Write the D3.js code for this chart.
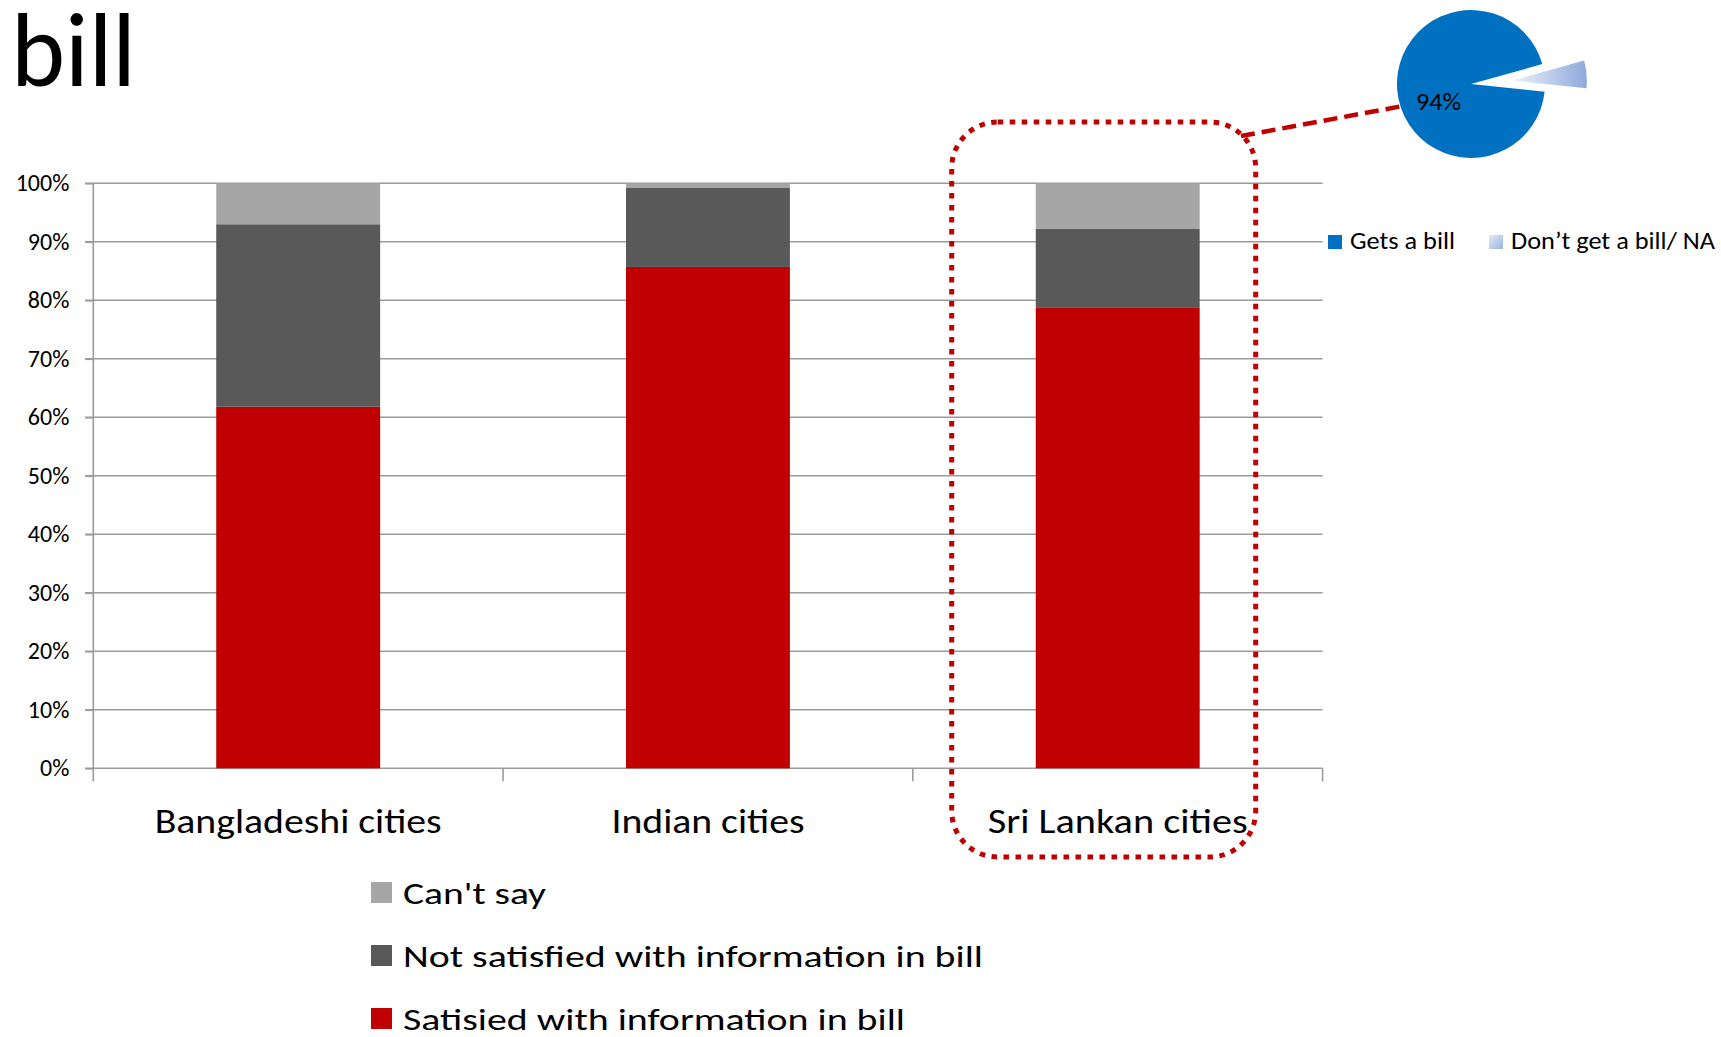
<!DOCTYPE html>
<html><head><meta charset="utf-8">
<script src="https://cdn.jsdelivr.net/npm/d3@7"></script>
<style>
html,body{margin:0;padding:0;background:#fff;}
svg{display:block;font-family:Carlito,Lato,"Open Sans",sans-serif;}
</style></head>
<body>
<svg id="chart" width="1721" height="1037"></svg>
<script>
// ---- data ----
const categories = ["Bangladeshi cities", "Indian cities", "Sri Lankan cities"];
const seriesNames = ["Satisied with information in bill", "Not satisfied with information in bill", "Can't say"];
const satisfied = [0.618, 0.857, 0.787];
const notSatisfied = [0.312, 0.135, 0.135];
const cantSay = [0.070, 0.008, 0.078];
const yTicks = [0, 0.1, 0.2, 0.3, 0.4, 0.5, 0.6, 0.7, 0.8, 0.9, 1.0];
const pieLabels = ["Gets a bill", "Don\u2019t get a bill/ NA"];
const pieValues = [94, 6];
const titleText = "bill";

// ---- styles ----
const colors = {"Satisied with information in bill":"#c00000","Not satisfied with information in bill":"#595959","Can't say":"#a6a6a6"};
const gridColor = "#9b9b9b";

const svg = d3.select("#chart");

// title
svg.append("text").attr("x", 11).attr("y", 86).attr("font-size", 104)
  .attr("fill", "#000").attr("textLength", 125).attr("lengthAdjust", "spacingAndGlyphs")
  .text(titleText);

// scales
const x = d3.scaleBand().domain(categories).range([93.3, 1322.6])
  .paddingInner(0.6).paddingOuter(0.3);
const y = d3.scaleLinear().domain([0, 1]).range([768.3, 183.3]);

// gridlines
svg.append("g").selectAll("line").data(yTicks).join("line")
  .attr("x1", 85).attr("x2", 1322.6)
  .attr("y1", d => y(d)).attr("y2", d => y(d))
  .attr("stroke", gridColor).attr("stroke-width", 1.6);

// y axis
const yAxis = svg.append("g").attr("transform", "translate(93.3,0)")
  .call(d3.axisLeft(y).tickValues(yTicks).tickFormat(d3.format(".0%")).tickSize(8).tickPadding(16));
yAxis.select(".domain").attr("stroke", gridColor).attr("stroke-width", 1.6)
  .attr("d", `M0,${y(1)}V${y(0) + 13}`);
yAxis.selectAll(".tick line").attr("stroke", gridColor).attr("stroke-width", 1.6);
yAxis.selectAll(".tick text").attr("font-size", 24).attr("fill", "#000")
  .attr("font-family", "Carlito,Lato,sans-serif");

// category boundary ticks
const bounds = d3.range(categories.length + 1).map(i => x.range()[0] + i * x.step());
svg.append("g").selectAll("line").data(bounds.slice(1)).join("line")
  .attr("x1", d => d).attr("x2", d => d)
  .attr("y1", y(0)).attr("y2", y(0) + 13)
  .attr("stroke", gridColor).attr("stroke-width", 1.6);

// stacked bars
const rows = categories.map((c, i) => ({
  cat: c,
  [seriesNames[0]]: satisfied[i],
  [seriesNames[1]]: notSatisfied[i],
  [seriesNames[2]]: cantSay[i]
}));
const stacked = d3.stack().keys(seriesNames)(rows);
svg.append("g").selectAll("g").data(stacked).join("g")
  .attr("fill", s => colors[s.key])
  .selectAll("rect").data(s => s).join("rect")
  .attr("x", d => x(d.data.cat))
  .attr("width", x.bandwidth())
  .attr("y", d => y(d[1]))
  .attr("height", d => y(d[0]) - y(d[1]));

// category labels
const catWidths = [287, 193, 260];
svg.append("g").selectAll("text").data(categories).join("text")
  .attr("x", d => x(d) + x.bandwidth() / 2)
  .attr("y", 833)
  .attr("text-anchor", "middle")
  .attr("font-size", 34)
  .attr("fill", "#000")
  .attr("textLength", (d, i) => catWidths[i])
  .attr("lengthAdjust", "spacingAndGlyphs")
  .text(d => d);

// bottom legend (Can't say first)
const legOrder = [seriesNames[2], seriesNames[1], seriesNames[0]];
const legWidths = [143, 580, 502];
const leg = svg.append("g").selectAll("g").data(legOrder).join("g")
  .attr("transform", (d, i) => `translate(371,${882 + i * 63})`);
leg.append("rect").attr("width", 21).attr("height", 21).attr("fill", d => colors[d]);
leg.append("text").attr("x", 32).attr("y", 22).attr("font-size", 30).attr("fill", "#000")
  .attr("textLength", (d, i) => legWidths[i]).attr("lengthAdjust", "spacingAndGlyphs")
  .text(d => d);

// dotted rounded highlight around Sri Lankan cities
const sl = x(categories[2]) + x.bandwidth() / 2;
svg.append("rect")
  .attr("x", sl - 166).attr("y", 122)
  .attr("width", 304).attr("height", 735)
  .attr("rx", 46).attr("ry", 46)
  .attr("fill", "none").attr("stroke", "#c00000")
  .attr("stroke-width", 5).attr("stroke-dasharray", "5.5 6.5");

// pie
const cx = 1471, cy = 84, r = 74;
const pie = d3.pie().sort(null).startAngle(96 * Math.PI / 180).endAngle(96 * Math.PI / 180 + 2 * Math.PI);
const arcs = pie(pieValues);
const arc = d3.arc().innerRadius(0).outerRadius(r);

// connector line
svg.append("line").attr("x1", 1241).attr("y1", 136).attr("x2", 1400).attr("y2", 106.5)
  .attr("stroke", "#c00000").attr("stroke-width", 4.5).attr("stroke-dasharray", "14 7");

const defs = svg.append("defs");
const grad = defs.append("linearGradient").attr("id", "lightBlue")
  .attr("x1", "0%").attr("x2", "100%").attr("y1", "0%").attr("y2", "0%");
grad.append("stop").attr("offset", "0%").attr("stop-color", "#eef2fa");
grad.append("stop").attr("offset", "100%").attr("stop-color", "#8fa9dc");
const legGrad = defs.append("linearGradient").attr("id", "lightBlueLeg")
  .attr("x1", "0%").attr("x2", "100%").attr("y1", "0%").attr("y2", "100%");
legGrad.append("stop").attr("offset", "0%").attr("stop-color", "#e3e9f6");
legGrad.append("stop").attr("offset", "100%").attr("stop-color", "#9db4e0");

const pieFills = ["#0070c0", "url(#lightBlue)"];
const pg = svg.append("g").attr("transform", `translate(${cx},${cy})`);
pg.selectAll("path").data(arcs).join("path")
  .attr("d", arc)
  .attr("fill", (d, i) => pieFills[i])
  .attr("transform", (d, i) => {
    if (i === 0) return null;
    const m = (d.startAngle + d.endAngle) / 2, off = 42;
    return `translate(${Math.sin(m) * off},${-Math.cos(m) * off})`;
  });
pg.append("text").attr("x", -55).attr("y", 26).attr("font-size", 24).attr("fill", "#000")
  .attr("textLength", 45).attr("lengthAdjust", "spacingAndGlyphs")
  .text(Math.round(pieValues[0] / d3.sum(pieValues) * 100) + "%");

// pie legend
const pieLegX = [1328, 1489];
const pieLegW = [105, 204];
const pieLegFills = ["#0070c0", "url(#lightBlueLeg)"];
const pl = svg.append("g").selectAll("g").data(pieLabels).join("g")
  .attr("transform", (d, i) => `translate(${pieLegX[i]},235)`);
pl.append("rect").attr("width", 14).attr("height", 14).attr("fill", (d, i) => pieLegFills[i]);
pl.append("text").attr("x", 22).attr("y", 14).attr("font-size", 24).attr("fill", "#000")
  .attr("textLength", (d, i) => pieLegW[i]).attr("lengthAdjust", "spacingAndGlyphs")
  .text(d => d);
</script>
</body></html>
